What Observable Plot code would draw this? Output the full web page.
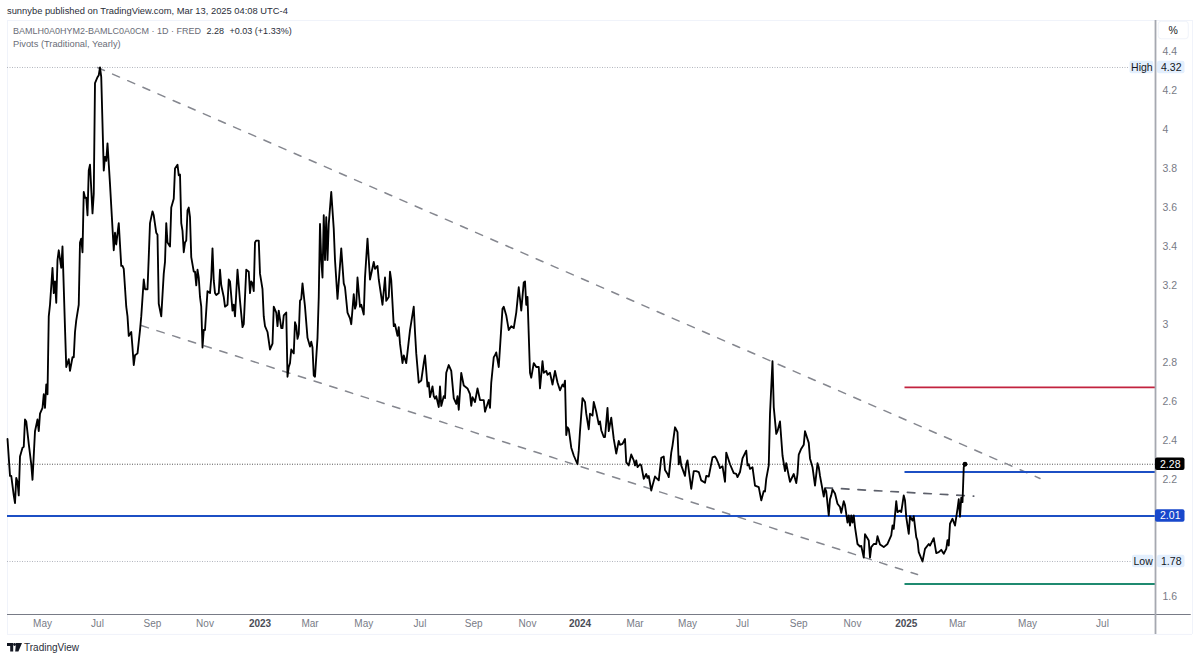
<!DOCTYPE html>
<html>
<head>
<meta charset="utf-8">
<script src="https://cdn.jsdelivr.net/npm/d3@7"></script>
<script src="https://cdn.jsdelivr.net/npm/@observablehq/plot@0.6"></script>
<style>
  html, body { margin: 0; padding: 0; background: #fff; }
  body { width: 1200px; height: 660px; position: relative; overflow: hidden; font-family: "Liberation Sans", sans-serif; }
  #head { height: 20px; line-height: 22px; padding-left: 7px; font-size: 9.35px; color: #2a2e39; white-space: nowrap; }
  #legend { position: absolute; left: 13px; top: 25px; font-size: 9px; line-height: 13px; color: #6a6d78; white-space: nowrap; }
  #legend span { font-size: 9.3px; }
  #legend b { font-weight: 500; color: #2a2e39; margin-left: 3px; }
  #chart svg { display: block; }
  #foot { position: absolute; left: 7px; top: 640px; height: 14px; display: flex; align-items: center; font-size: 10px; color: #2a2e39; }
  #foot svg { margin-right: 2px; }
</style>
</head>
<body>
<div id="head">sunnybe published on TradingView.com, Mar 13, 2025 04:08 UTC-4</div>
<div id="chart"></div>
<div id="legend">BAMLH0A0HYM2-BAMLC0A0CM · 1D · FRED <b>2.28</b> <b>+0.03 (+1.33%)</b><br><span>Pivots (Traditional, Yearly)</span></div>
<div id="foot"><svg width="15" height="9" viewBox="0 0 15 9"><path d="M0 0h6.2v8.6H3.2V3H0z M9 0h6l-3.6 8.6H8.2z" fill="#131722"/><circle cx="7.6" cy="1.5" r="1.4" fill="#131722"/></svg>TradingView</div>
<script>
// Bar number (sessions since the first bar) and spread value, row by row
const sessions = [
  0,2,3,5,6,7,8,9,10,12,13,14,
  15,17,19,20,22,24,25,26,28,29,30,31,
  32,33,34,36,37,38,39,40,41,43,44,46,
  47,49,50,52,53,54,55,57,58,59,60,61,
  62,63,64,65,66,68,69,70,72,73,74,75,
  77,78,79,80,82,85,86,87,89,91,92,93,
  95,96,97,99,100,101,102,104,106,107,109,110,
  112,113,114,116,117,119,120,121,123,125,126,127,
  128,130,131,133,134,136,137,138,139,140,141,142,
  143,144,145,146,147,149,150,151,152,153,154,155,
  156,157,158,160,162,163,164,165,166,167,169,170,
  171,173,174,176,177,178,180,181,182,184,186,188,
  189,191,193,194,195,196,197,198,199,201,202,204,
  205,206,208,210,212,213,215,216,217,219,220,221,
  223,224,225,226,227,229,230,231,232,233,234,235,
  236,238,240,242,243,244,245,246,248,249,250,251,
  252,253,254,255,256,257,259,261,262,264,267,269,
  270,272,274,275,277,278,279,280,282,283,285,286,
  288,290,293,294,296,297,300,302,303,305,306,307,
  309,310,312,313,314,316,317,319,322,325,326,327,
  329,331,333,334,336,337,338,340,341,342,343,345,
  346,347,349,350,351,353,355,357,359,360,361,363,
  365,368,370,371,372,374,376,378,381,382,385,386,
  387,389,390,391,393,396,397,399,401,403,405,407,
  409,411,413,414,415,416,418,419,421,423,425,426,
  428,429,431,432,434,436,438,440,442,444,445,446,
  447,448,449,451,453,456,457,458,460,462,463,465,
  466,468,469,471,473,474,475,477,478,480,481,483,
  485,487,489,490,492,494,495,497,499,501,502,503,
  504,506,507,509,511,512,513,515,516,518,519,521,
  523,525,526,528,529,531,532,534,536,537,538,539,
  542,543,544,547,549,551,553,555,558,559,561,564,
  566,567,569,570,572,574,575,578,581,583,584,586,
  588,591,592,593,594,596,598,601,603,605,606,607,
  609,610,612,613,615,616,618,620,622,623,625,626,
  629,631,632,633,635,637,638,641,642,644,646,648,
  649,650,653,654,655,657,658,659,660,662,664,666,
  667,669,670,672,673,674,675,676,677,678,680,682,
  683,685,686,689,690,691,693,695,696,698,701,704,
  707,708,709,711,712,714,715,717,718,719,721,722,
  724,725,727,728,729,732,734,737,738,741,743,745,
  747,749,751,752,753,754,756,758,760,761,762,763,
  764,765,766
];
const values = [
  2.41,2.22,2.22,2.12,2.08,2.21,2.19,2.12,2.32,2.365,2.37,2.51,
  2.50,2.385,2.28,2.20,2.45,2.51,2.45,2.54,2.57,2.64,2.57,2.69,
  2.64,3.04,3.10,3.29,3.16,3.22,3.11,3.33,3.38,3.29,3.40,2.98,
  2.78,2.82,2.76,2.83,2.83,2.96,3.02,3.10,3.42,3.44,3.37,3.68,
  3.65,3.65,3.56,3.79,3.82,3.57,3.67,4.24,4.27,4.28,4.32,4.27,
  3.79,3.86,3.84,3.93,3.72,3.38,3.47,3.41,3.52,3.30,3.30,3.285,
  3.09,3.04,2.94,2.96,2.88,2.79,2.84,2.85,2.97,3.04,3.23,3.18,
  3.18,3.345,3.52,3.58,3.56,3.47,3.46,3.105,3.04,3.26,3.32,3.52,
  3.42,3.40,3.60,3.645,3.80,3.82,3.765,3.77,3.52,3.48,3.37,3.42,
  3.43,3.585,3.60,3.55,3.345,3.27,3.27,3.20,3.28,3.24,3.14,3.09,
  2.88,2.97,2.97,3.17,3.16,3.24,3.39,3.225,3.16,3.15,3.16,3.28,
  3.20,3.14,3.09,3.10,3.23,3.22,3.07,3.10,3.04,3.28,3.12,2.985,
  3.0,3.28,3.27,3.16,3.22,3.21,3.17,3.42,3.43,3.43,3.26,3.18,
  3.04,2.99,2.96,2.87,2.90,3.09,3.06,2.99,3.07,2.98,2.98,3.045,
  3.06,2.73,2.78,2.80,2.87,2.85,3.01,2.99,2.925,2.95,3.12,3.13,
  3.21,3.09,2.93,2.885,2.91,2.88,2.736,2.73,2.93,3.14,3.515,3.33,
  3.24,3.56,3.33,3.55,3.33,3.515,3.68,3.49,3.33,3.13,3.39,3.21,
  3.19,3.06,3.03,3.0,3.155,3.08,3.10,3.24,3.09,3.10,3.05,3.24,
  3.44,3.23,3.32,3.285,3.30,3.23,3.10,3.24,3.12,3.14,3.27,3.225,
  2.99,3.0,2.94,2.985,2.90,2.80,2.84,2.80,2.97,3.09,2.96,2.85,
  2.70,2.71,2.80,2.84,2.68,2.70,2.625,2.68,2.63,2.617,2.63,2.574,
  2.68,2.58,2.63,2.62,2.75,2.79,2.76,2.62,2.59,2.63,2.56,2.75,
  2.685,2.67,2.64,2.58,2.625,2.60,2.67,2.61,2.61,2.55,2.61,2.57,
  2.70,2.83,2.84,2.855,2.78,3.08,3.09,3.045,2.97,2.99,2.98,3.06,
  3.19,3.07,3.215,3.22,3.10,3.14,2.75,2.725,2.80,2.78,2.78,2.67,
  2.81,2.75,2.76,2.74,2.75,2.69,2.76,2.70,2.66,2.69,2.68,2.71,
  2.43,2.47,2.46,2.365,2.325,2.28,2.35,2.45,2.62,2.60,2.54,2.46,
  2.54,2.53,2.60,2.55,2.485,2.50,2.455,2.42,2.42,2.57,2.45,2.52,
  2.41,2.335,2.40,2.38,2.385,2.41,2.29,2.274,2.33,2.30,2.274,2.30,
  2.265,2.28,2.274,2.205,2.23,2.21,2.22,2.145,2.17,2.217,2.21,2.197,
  2.313,2.32,2.25,2.23,2.214,2.34,2.376,2.47,2.445,2.28,2.32,2.274,
  2.22,2.28,2.30,2.154,2.245,2.245,2.24,2.197,2.185,2.22,2.217,2.315,
  2.32,2.31,2.28,2.26,2.27,2.19,2.34,2.28,2.234,2.23,2.214,2.24,
  2.31,2.35,2.274,2.28,2.256,2.265,2.17,2.162,2.094,2.142,2.14,2.205,
  2.274,2.54,2.81,2.574,2.436,2.45,2.50,2.325,2.245,2.286,2.22,2.19,
  2.23,2.183,2.23,2.33,2.36,2.38,2.45,2.39,2.31,2.265,2.17,2.285,
  2.265,2.22,2.114,2.155,2.14,2.017,2.10,2.12,2.15,2.13,2.077,2.06,
  2.03,2.09,2.07,1.98,2.017,1.965,2.017,1.98,2.017,1.957,1.87,1.857,
  1.86,1.80,1.92,1.888,1.80,1.854,1.87,1.87,1.91,1.867,1.854,1.87,
  1.914,1.965,1.948,2.09,2.034,2.042,2.034,2.12,2.094,2.008,1.922,2.013,
  1.99,2.013,1.905,1.888,1.828,1.78,1.845,1.87,1.862,1.90,1.823,1.828,
  1.84,1.82,1.845,1.89,1.862,1.974,2.0,1.965,2.05,2.10,2.01,2.108,
  2.085,2.265,2.28
];

// Time axis: bar numbers of the tick labels
const monthSessions = [28,72,116,158,242,285,330,373,416,502,544,588,633,676,760,816,876];
const monthLabels = ["May","Jul","Sep","Nov","Mar","May","Jul","Sep","Nov","Mar","May","Jul","Sep","Nov","Mar","May","Jul"];
const yearSessions = [202,458,719];
const yearLabels = ["2023","2024","2025"];
const priceTicks = [4.4,4.2,4,3.8,3.6,3.4,3.2,3,2.8,2.6,2.4,2.2,1.6];

// Drawn lines
const upperTrend = [{s:72,v:4.32},{s:826,v:2.207}];
const lowerTrend = [{s:107,v:2.993},{s:728,v:1.713}];
const shortTrend = [{s:654,v:2.159},{s:773,v:2.116}];
const pivotStart = 718;
const pivotR = 2.675, pivotS = 2.24, pivotP = 2.014, pivotL = 1.664;
const high = 4.32, last = 2.28, low = 1.78;

const xMax = 918.4;
const priceBox = [
  {label:"4.32", v:4.32, bg:"#e3effd", fg:"#131722", from:920, to:942},
  {label:"2.28", v:2.28, bg:"#000000", fg:"#ffffff", from:918.4, to:942},
  {label:"2.01", v:2.014, bg:"#1848cc", fg:"#ffffff", from:918.4, to:942},
  {label:"1.78", v:1.78, bg:"#e3effd", fg:"#131722", from:920, to:942},
  {label:"High", v:4.32, bg:"#e3effd", fg:"#131722", from:898, to:917},
  {label:"Low",  v:1.78, bg:"#e3effd", fg:"#131722", from:900, to:917}
];
const unitBox = [{from:921, to:945, y1:4.465, y2:4.555}];
const monthName = new Map(monthSessions.map((s,i)=>[s,monthLabels[i]]));
const yearName = new Map(yearSessions.map((s,i)=>[s,yearLabels[i]]));
const trendStyle = {x:"s", y:"v", stroke:"#85878f", strokeWidth:1.5, strokeDasharray:"7.5,9"};
const pivotLine = (v, color, from) => Plot.ruleY([v], {x1:from, x2:xMax, stroke:color, strokeWidth:1.9});
const faint = "#f0f3fa";

const chart = Plot.plot({
  width: 1200, height: 620,
  marginLeft: 7, marginRight: 45, marginTop: 0, marginBottom: 26,
  style: {fontFamily:"'Liberation Sans', sans-serif", fontSize:"10.5px", background:"#fff", overflow:"visible"},
  x: {type:"linear", domain:[0,xMax], axis:null},
  y: {type:"linear", domain:[1.5075,4.5615], axis:null},
  color: {type:"identity"},
  marks: [
    Plot.ruleY([1.405, 4.5615], {x1:0, x2:948, stroke:faint}),
    Plot.ruleX([0, 948], {y1:1.405, y2:4.5615, stroke:faint}),
    Plot.ruleY([high], {x1:0, x2:897, stroke:"#b2b5be", strokeDasharray:"1,1.5", strokeWidth:1}),
    Plot.ruleY([low],  {x1:0, x2:899, stroke:"#b2b5be", strokeDasharray:"1,1.5", strokeWidth:1}),
    Plot.ruleY([last], {x1:0, x2:xMax, stroke:"#555", strokeDasharray:"1,1.5", strokeWidth:1}),
    Plot.line(upperTrend, trendStyle),
    Plot.line(lowerTrend, trendStyle),
    Plot.line(shortTrend, {...trendStyle, stroke:"#5d606b", strokeWidth:1.7}),
    pivotLine(pivotR, "#c2233f", pivotStart),
    pivotLine(pivotS, "#1c4fc4", pivotStart),
    pivotLine(pivotL, "#1f8a70", pivotStart),
    pivotLine(pivotP, "#1c4fc4", 0),
    Plot.line(values, {x:sessions, y:values, stroke:"#000", strokeWidth:1.85, strokeLinejoin:"round"}),
    Plot.dot([last], {x:()=>sessions[sessions.length-1], y:d=>d, r:2.4, fill:"#000"}),
    Plot.ruleY([1.5075], {x1:0, x2:947, stroke:"#787b86", strokeWidth:1.2}),
    Plot.ruleX([xMax], {y1:1.405, y2:4.5615, stroke:"#a5a8b0", strokeWidth:1.8}),
    Plot.axisY({anchor:"right", ticks:priceTicks, tickSize:0, tickPadding:7, label:null, textAnchor:"start", fill:"#787b86", tickFormat:d=>String(d), fontSize:10.5}),
    Plot.axisX({anchor:"bottom", ticks:monthSessions, tickSize:0, tickPadding:5, label:null, fill:"#787b86", tickFormat:d=>monthName.get(d), fontSize:10}),
    Plot.axisX({anchor:"bottom", ticks:yearSessions, tickSize:0, tickPadding:5, label:null, fill:"#4a4d57", fontWeight:700, tickFormat:d=>yearName.get(d), fontSize:10}),
    Plot.rect(unitBox, {x1:"from", x2:"to", y1:"y1", y2:"y2", fill:"#fff", stroke:faint, rx:3}),
    Plot.rect(priceBox, {x1:"from", x2:"to", y1:d=>d.v-0.032, y2:d=>d.v+0.032, fill:"bg", rx:2}),
    Plot.text(priceBox, {x:d=>(d.from+d.to)/2, y:"v", text:"label", fill:"fg", fontSize:10.5}),
    Plot.text(["%"], {x:()=>xMax, y:()=>4.51, dx:13, text:d=>d, fill:"#131722", fontSize:10.5, textAnchor:"start"})
  ]
});
document.getElementById("chart").appendChild(chart);
</script>
</body>
</html>
